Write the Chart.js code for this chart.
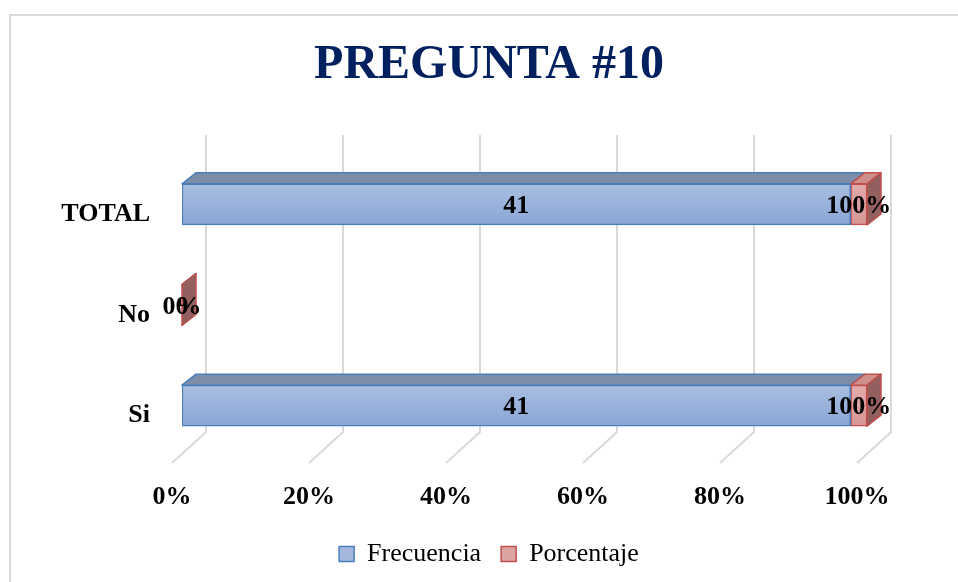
<!DOCTYPE html>
<html>
<head>
<meta charset="utf-8">
<script src="https://cdn.jsdelivr.net/npm/chart.js@4"></script>
<style>
html,body{margin:0;padding:0;background:#fff;}
canvas{display:block;}
</style>
</head>
<body>
<canvas id="c" width="958" height="582"></canvas>
<script>
const categories = ['Si', 'No', 'TOTAL'];
const frecuencia = [41, 0, 41];
const porcentaje = [1, 0, 1];
const xTicks = [0, 20, 40, 60, 80, 100];
const titleText = 'PREGUNTA #10';
const seriesNames = ['Frecuencia', 'Porcentaje'];

// 100% stacked shares
const frecShare = frecuencia.map((v, i) => { const t = v + porcentaje[i]; return t ? v / t * 100 : 0; });
const porcShare = porcentaje.map((v, i) => { const t = frecuencia[i] + v; return t ? v / t * 100 : 0; });

const SERIF = "'Liberation Serif', 'Times New Roman', serif";
const DX = 14, DY = -11;
const BAR_T = 41;
const styles = [
  { top: '#a9bee1', bottom: '#8aa6d6', flat: '#a3b8dc', border: '#4a7ebb', topFace: '#7d8da8', side: '#6a7d9c' },
  { top: '#e2abab', bottom: '#d79694', flat: '#dca3a3', border: '#c0504d', topFace: '#cf8f8d', side: '#935f5f' }
];

function grad(idx) {
  return (c) => {
    const s = styles[idx];
    if (c.type !== 'data' || !c.chart.scales.y) return s.flat;
    const yc = c.chart.scales.y.getPixelForValue(c.dataIndex);
    const g = c.chart.ctx.createLinearGradient(0, yc - BAR_T / 2, 0, yc + BAR_T / 2);
    g.addColorStop(0, s.top);
    g.addColorStop(1, s.bottom);
    return g;
  };
}

const framePlugin = {
  id: 'frame',
  beforeDraw(chart) {
    const ctx = chart.ctx;
    ctx.save();
    ctx.strokeStyle = '#d9d9d9';
    ctx.lineWidth = 2;
    ctx.beginPath();
    ctx.moveTo(10, 582);
    ctx.lineTo(10, 15);
    ctx.lineTo(958, 15);
    ctx.stroke();
    ctx.restore();
  },
  beforeDatasetsDraw(chart) {
    const ctx = chart.ctx, xs = chart.scales.x;
    const backTop = 135, backBottom = 432, front = 463;
    ctx.save();
    ctx.strokeStyle = '#d9d9d9';
    ctx.lineWidth = 2;
    xTicks.forEach(v => {
      const px = xs.getPixelForValue(v);
      ctx.beginPath();
      ctx.moveTo(px + 24, backTop);
      ctx.lineTo(px + 24, backBottom);
      ctx.lineTo(px - 10, front);
      ctx.stroke();
    });
    ctx.restore();
  },
  afterDatasetsDraw(chart) {
    const ctx = chart.ctx;
    const n = chart.data.datasets.length;
    ctx.save();
    ctx.lineWidth = 1.5;
    ctx.lineJoin = 'round';
    for (let d = 0; d < n; d++) {
      const meta = chart.getDatasetMeta(d);
      const s = styles[d];
      meta.data.forEach(el => {
        const left = Math.min(el.base, el.x), right = Math.max(el.base, el.x);
        const top = el.y - el.height / 2, bottom = el.y + el.height / 2;
        ctx.fillStyle = s.topFace;
        ctx.strokeStyle = s.border;
        ctx.beginPath();
        ctx.moveTo(left, top);
        ctx.lineTo(left + DX, top + DY);
        ctx.lineTo(right + DX, top + DY);
        ctx.lineTo(right, top);
        ctx.closePath();
        ctx.fill(); ctx.stroke();
        if (d === n - 1) {
          ctx.fillStyle = s.side;
          ctx.beginPath();
          ctx.moveTo(right, top);
          ctx.lineTo(right + DX, top + DY);
          ctx.lineTo(right + DX, bottom + DY);
          ctx.lineTo(right, bottom);
          ctx.closePath();
          ctx.fill(); ctx.stroke();
        }
      });
    }
    // data labels
    ctx.fillStyle = '#000';
    ctx.font = 'bold 26px ' + SERIF;
    ctx.textAlign = 'center';
    ctx.textBaseline = 'middle';
    const raw = [frecuencia, porcentaje];
    for (let d = 0; d < n; d++) {
      const meta = chart.getDatasetMeta(d);
      meta.data.forEach((el, i) => {
        const v = raw[d][i];
        const txt = d === 0 ? String(v) : Math.round(v * 100) + '%';
        ctx.fillText(txt, (el.x + el.base) / 2, el.y + 2);
      });
    }
    ctx.restore();
  }
};

new Chart(document.getElementById('c'), {
  type: 'bar',
  data: {
    labels: categories,
    datasets: [
      { label: seriesNames[0], data: frecShare, backgroundColor: grad(0), borderColor: styles[0].border, borderWidth: 1.5, borderSkipped: false, barThickness: BAR_T },
      { label: seriesNames[1], data: porcShare, backgroundColor: grad(1), borderColor: styles[1].border, borderWidth: 1.5, borderSkipped: false, barThickness: BAR_T }
    ]
  },
  options: {
    indexAxis: 'y',
    responsive: false,
    devicePixelRatio: 1,
    animation: false,
    events: [],
    layout: { padding: { left: 20, right: 0, top: 0, bottom: 5 } },
    scales: {
      x: {
        stacked: true, min: 0, max: 100,
        afterBuildTicks(s) { s.ticks = xTicks.map(v => ({ value: v })); },
        afterFit(s) { s.height = 65; },
        grid: { display: false, drawTicks: false },
        border: { display: false },
        ticks: {
          callback: v => v + '%',
          font: { family: SERIF, size: 26, weight: 'bold' },
          color: '#000', padding: 26, labelOffset: -10, maxRotation: 0, autoSkip: false
        }
      },
      y: {
        stacked: true, reverse: true,
        afterFit(s) { s.width = 162; },
        grid: { display: false, drawTicks: false },
        border: { display: false },
        ticks: {
          font: { family: SERIF, size: 26, weight: 'bold' },
          color: '#000', padding: 32, labelOffset: 10
        }
      },
      yRight: {
        type: 'category', position: 'right', display: true,
        afterFit(s) { s.width = 91; },
        grid: { display: false, drawTicks: false },
        border: { display: false },
        ticks: { display: false }
      }
    },
    plugins: {
      title: {
        display: true, text: titleText,
        font: { family: SERIF, size: 48, weight: 'bold', lineHeight: 1.2 },
        color: '#002060',
        padding: { top: 37, bottom: 59.4 }
      },
      legend: {
        position: 'bottom',
        labels: {
          font: { family: SERIF, size: 26 },
          color: '#000', boxWidth: 15, boxHeight: 15, padding: 20,
          generateLabels: (chart) => chart.data.datasets.map((ds, i) => ({
            text: ds.label, fillStyle: styles[i].flat, strokeStyle: styles[i].border,
            lineWidth: 1.5, datasetIndex: i, hidden: false
          }))
        }
      },
      tooltip: { enabled: false }
    }
  },
  plugins: [framePlugin]
});
</script>
</body>
</html>
